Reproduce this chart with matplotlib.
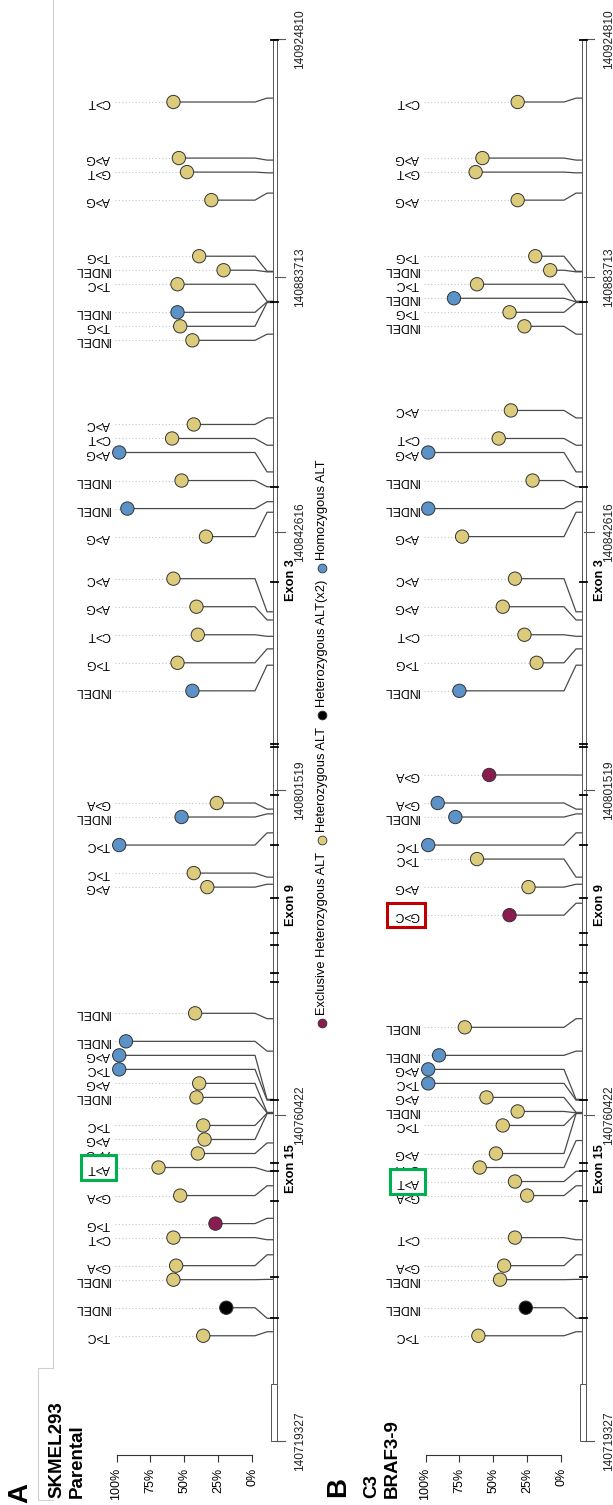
import numpy as np
import matplotlib.pyplot as plt
from matplotlib.patches import Rectangle
from matplotlib.lines import Line2D

plt.rcParams['font.family'] = ['Liberation Sans', 'DejaVu Sans']

# gene coordinates (BRAF) labelled along the track
tick_pos = [140719327, 140760422, 140801519, 140842616, 140883713, 140924810]
exon_marks = [140734800, 140740000, 140749600, 140753300, 140754400, 140762350,
              140777240, 140778380, 140781920, 140783440, 140787860, 140794560,
              140800900, 140808370, 140808850, 140834650, 140849870, 140879700,
              140924700]
exon_names = ['Exon 15', 'Exon 9', 'Exon 3']
exon_name_pos = [140753600, 140787000, 140835000]

legend_keys = ['excl', 'het', 'het2', 'hom']
legend_names = ['Exclusive Heterozygous ALT', 'Heterozygous ALT',
                'Heterozygous ALT(x2)', 'Homozygous ALT']
colors = {'excl': '#8A1C50', 'het': '#DCCB7A', 'het2': '#000000', 'hom': '#5B93C9'}

# Panel A: SKMEL293 parental (listed from the 3' end of the plot top downwards)
a_change = ['C>T', 'A>G', 'G>T', 'A>G', 'T>G', 'INDEL', 'T>C', 'INDEL', 'T>G', 'INDEL',
            'A>C', 'C>T', 'A>G', 'INDEL', 'INDEL', 'A>G', 'A>C', 'A>G', 'C>T', 'T>G',
            'INDEL', 'G>A', 'INDEL', 'T>C', 'T>C', 'A>G', 'INDEL', 'INDEL', 'A>G', 'T>C',
            'A>G', 'INDEL', 'T>C', 'A>G', 'A>G', 'A>T', 'G>A', 'T>G', 'C>T', 'G>A',
            'INDEL', 'INDEL', 'T>C']
a_kind = ['het', 'het', 'het', 'het', 'het', 'het', 'het', 'hom', 'het', 'het',
          'het', 'het', 'hom', 'het', 'hom', 'het', 'het', 'het', 'het', 'het',
          'hom', 'het', 'hom', 'hom', 'het', 'het', 'het', 'hom', 'hom', 'hom',
          'het', 'het', 'het', 'het', 'het', 'het', 'het', 'excl', 'het', 'het',
          'het', 'het2', 'het']
a_vaf = [58, 54, 48, 30, 39, 21, 55, 55, 53, 44,
         43, 59, 98, 52, 92, 34, 58, 41, 40, 55,
         44, 26, 52, 98, 43, 33, 42, 93, 98, 98,
         39, 41, 36, 35, 40, 69, 53, 27, 58, 56,
         58, 19, 36]
a_pos = [140914600, 140903900, 140901700, 140898200, 140884700, 140884600, 140879800,
         140879700, 140879600, 140874500, 140861000, 140856600, 140852300, 140849900,
         140847500, 140845800, 140829900, 140828600, 140826000, 140824000, 140821400,
         140799100, 140798500, 140796100, 140790500, 140789600, 140772600, 140768500,
         140762400, 140762300, 140760750, 140760700, 140760650, 140760600, 140756900,
         140753336, 140751500, 140747400, 140744700, 140742800, 140739700, 140734800,
         140733100]
a_slot = [0, 4, 5, 7, 11, 12, 13, 15, 16, 17, 23, 24, 25, 27, 29, 31, 34, 36, 38, 40,
          42, 50, 51, 53, 55, 56, 65, 67, 68, 69, 70, 71, 73, 74, 75, 76, 78, 80, 81,
          83, 84, 86, 88]

# Panel B: C3 BRAF3-9
b_change = ['C>T', 'A>G', 'G>T', 'A>G', 'T>G', 'INDEL', 'T>C', 'INDEL', 'T>G', 'INDEL',
            'A>C', 'C>T', 'A>G', 'INDEL', 'INDEL', 'A>G', 'A>C', 'A>G', 'C>T', 'T>G',
            'INDEL', 'G>A', 'G>A', 'INDEL', 'T>C', 'T>C', 'A>G', 'G>C', 'INDEL', 'INDEL',
            'A>G', 'T>C', 'A>G', 'INDEL', 'T>C', 'A>G', 'G>A', 'A>T', 'G>A', 'C>T',
            'G>A', 'INDEL', 'INDEL', 'T>C']
b_kind = ['het', 'het', 'het', 'het', 'het', 'het', 'het', 'hom', 'het', 'het',
          'het', 'het', 'hom', 'het', 'hom', 'het', 'het', 'het', 'het', 'het',
          'hom', 'excl', 'hom', 'hom', 'hom', 'het', 'het', 'excl', 'het', 'hom',
          'hom', 'hom', 'het', 'het', 'het', 'het', 'het', 'het', 'het', 'het',
          'het', 'het', 'het2', 'het']
b_vaf = [32, 58, 63, 32, 19, 8, 62, 79, 38, 27,
         37, 46, 98, 21, 98, 73, 34, 43, 27, 18,
         75, 53, 91, 78, 98, 62, 24, 38, 71, 90,
         98, 98, 55, 32, 43, 48, 60, 34, 25, 34,
         42, 45, 26, 61]
b_pos = [140914600, 140903900, 140901700, 140898200, 140884700, 140884600, 140879800,
         140879700, 140879600, 140874500, 140861000, 140856600, 140852300, 140849900,
         140847500, 140845800, 140829900, 140828600, 140826000, 140824000, 140821400,
         140803900, 140799100, 140798500, 140796100, 140790500, 140789600, 140787200,
         140772600, 140768500, 140762400, 140762300, 140760750, 140760700, 140760650,
         140760600, 140757200, 140753336, 140751500, 140744700, 140742800, 140739700,
         140734800, 140733100]
b_slot = [0, 4, 5, 7, 11, 12, 13, 14, 15, 16, 22, 24, 25, 27, 29, 31, 34, 36, 38, 40,
          42, 48, 50, 51, 53, 54, 56, 58, 66, 68, 69, 70, 71, 72, 73, 75, 76, 77, 78,
          81, 83, 84, 86, 88]

# layout of the broken gene axis and label rows
track_u = [0, 326, 651, 909, 1164, 1402]


def gene_y(g):
    return np.interp(g, tick_pos, track_u)


def slot_y(s):
    return 1339 - 14.02 * np.asarray(s)


W, H = 613, 1505
fig = plt.figure(figsize=(W / 100, H / 100), dpi=100)

LABEL_X, DOT_X0 = 104.8, 101.1
ELBOW_X, DIAG_X = -2.2, -11.1
GENE_L, GENE_R, BOX_L = -15.3, -18.3, -13.9


def draw_panel(left_px, change, kind, vaf, pos, slot, boxed):
    ax = fig.add_axes([left_px / W, 0, 240 / W, 1])
    ax.set_facecolor('none')
    ax.set_xlim(141.7, -35.4)
    ax.set_ylim(-64, 1441)

    ys = slot_y(slot)
    ya = gene_y(pos)
    for i in range(len(change)):
        ax.plot([DOT_X0, vaf[i]], [ys[i], ys[i]], color='#C4C4C4', lw=0.8,
                ls=(0, (1, 2)), zorder=1)
        ax.plot([vaf[i], ELBOW_X, DIAG_X, GENE_L], [ys[i], ys[i], ya[i], ya[i]],
                color='#4A4A4A', lw=0.9, zorder=2)
        txt = dict(rotation=180, ha='right', va='center', fontsize=8.8, zorder=5)
        if i in boxed:
            txt['bbox'] = dict(boxstyle='square,pad=0.5', fc='white',
                               ec=boxed[i], lw=2.2)
            txt['zorder'] = 6
        ax.text(LABEL_X, ys[i], change[i], **txt)
    ax.scatter(vaf, ys, s=92, c=[colors[k] for k in kind], edgecolors='#333333',
               linewidths=0.7, zorder=4)

    # gene body
    ax.add_patch(Rectangle((GENE_R, 0), GENE_L - GENE_R, track_u[-1], fc='white',
                           ec='#555555', lw=0.7, zorder=3))
    ax.add_patch(Rectangle((GENE_R, 0), BOX_L - GENE_R, 57, fc='white',
                           ec='#555555', lw=0.7, zorder=3))
    for g in exon_marks:
        ax.plot([-14.0, -19.2], [gene_y(g)] * 2, color='black', lw=1.3, zorder=4)
    for g in tick_pos:
        ax.plot([-16.6, -24.4], [gene_y(g)] * 2, color='#555555', lw=0.8, zorder=3)
        ax.text(-35.8, gene_y(g), str(g), rotation=90, ha='center', va='center',
                fontsize=8.6, color='#222222')
    for name, g in zip(exon_names, exon_name_pos):
        ax.text(-28.8, gene_y(g), name, rotation=90, ha='center', va='center',
                fontsize=9.2, fontweight='bold')

    # VAF axis
    for s in ['left', 'right', 'top']:
        ax.spines[s].set_visible(False)
    ax.spines['bottom'].set_position(('data', -14))
    ax.spines['bottom'].set_bounds(0, 100)
    ax.spines['bottom'].set_color('#333333')
    ax.spines['bottom'].set_linewidth(0.8)
    ax.set_xticks([0, 25, 50, 75, 100])
    ax.set_xticklabels(['0%', '25%', '50%', '75%', '100%'], rotation=90, fontsize=9)
    ax.tick_params(axis='x', length=5, width=0.8, color='#333333', pad=4)
    ax.set_yticks([])
    return ax


draw_panel(60, a_change, a_kind, a_vaf, a_pos, a_slot, {35: '#00B050'})
draw_panel(369, b_change, b_kind, b_vaf, b_pos, b_slot,
           {37: '#00B050', 27: '#C00000'})

# legend, running bottom to top between the panels
lax = fig.add_axes([300 / W, 0, 45 / W, 1])
lax.set_xlim(300, 345)
lax.set_ylim(H, 0)
lax.axis('off')
renderer = fig.canvas.get_renderer()
y = 1023
for key, name in zip(legend_keys, legend_names):
    lax.scatter([322], [y], s=40, c=colors[key], edgecolors='#333333', linewidths=0.6)
    t = lax.text(322, y - 8, name, rotation=90, ha='center', va='bottom', fontsize=9.3)
    y = y - 8 - t.get_window_extent(renderer).height - 12


def ftext(px, py, s, **kw):
    fig.text(px / W, 1 - py / H, s, rotation=90, ha='center', va='bottom',
             fontweight='bold', **kw)


ftext(20, 1503, 'A', fontsize=20)
ftext(57, 1498, 'SKMEL293', fontsize=13.5)
ftext(77, 1498, 'Parental', fontsize=13.5)
ftext(338, 1497, 'B', fontsize=20)
ftext(372, 1498, 'C3', fontsize=13.5)
ftext(392, 1498, 'BRAF3-9', fontsize=13.5)

# thin frame edge on the left
fx = np.array([53, 53, 38, 38, 53]) / W
fy = 1 - np.array([0, 1368, 1368, 1500, 1500]) / H
fig.add_artist(Line2D(fx, fy, transform=fig.transFigure, color='#D0D0D0', lw=0.8))

fig.savefig('out.png', dpi=100)
